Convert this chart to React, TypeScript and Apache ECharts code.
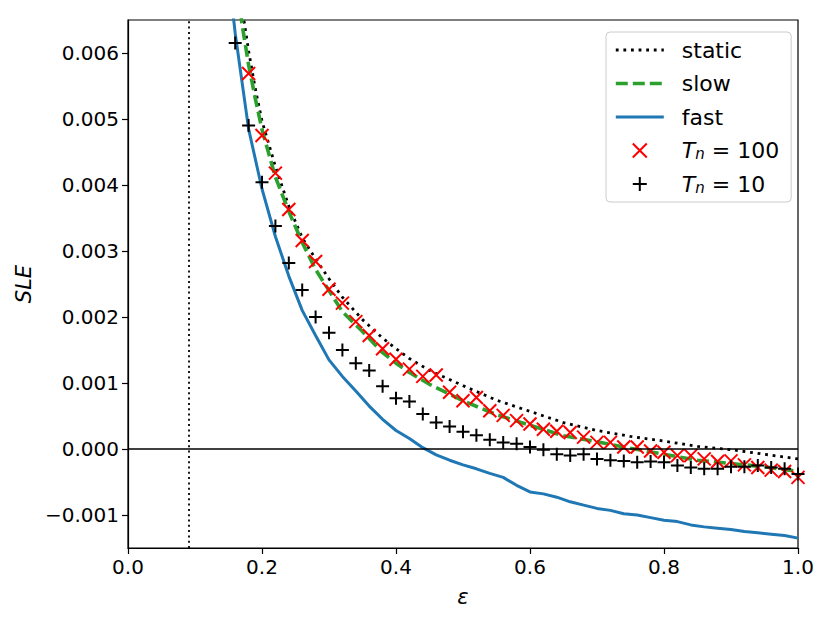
import React, { useEffect, useRef } from "react";
import * as echarts from "echarts";

// ---- data ----
const X_TICKS = [0, 0.2, 0.4, 0.6, 0.8, 1.0];
const Y_TICKS = [-0.001, 0, 0.001, 0.002, 0.003, 0.004, 0.005, 0.006];
const X_RANGE = [0, 1];
const Y_RANGE = [-0.0015, 0.0065];
const EPS_CRITICAL = [0.091];
const ZERO_LEVEL = [0];

const EPS_SMOOTH = [0.16, 0.17, 0.18, 0.19, 0.2, 0.22, 0.24, 0.26, 0.28, 0.3, 0.32, 0.35, 0.38, 0.4, 0.42, 0.45, 0.5, 0.55, 0.6, 0.65, 0.7, 0.75, 0.8, 0.85, 0.9, 0.95, 1.0];
const STATIC_SLE = [0.0074, 0.0067, 0.00603, 0.00546, 0.00497, 0.00428, 0.00368, 0.0032, 0.00288, 0.00258, 0.0023, 0.00196, 0.00168, 0.00152, 0.00137, 0.00119, 0.00096, 0.00074, 0.00057, 0.0004, 0.00028, 0.00019, 0.00012, 0.00004, -0.00001, -0.00008, -0.00015];
const SLOW_SLE = [0.0074, 0.00645, 0.00582, 0.00531, 0.00484, 0.00412, 0.0036, 0.00313, 0.00272, 0.0024, 0.00208, 0.00178, 0.00146, 0.0013, 0.00116, 0.00098, 0.00073, 0.00052, 0.00036, 0.0002, 0.00011, 0.00001, -0.00008, -0.00017, -0.00022, -0.00027, -0.00034];

const EPS_FAST = [0.15, 0.16, 0.18, 0.2, 0.22, 0.24, 0.26, 0.28, 0.3, 0.32, 0.34, 0.36, 0.38, 0.4, 0.42, 0.44, 0.46, 0.48, 0.5, 0.52, 0.54, 0.56, 0.58, 0.6, 0.62, 0.64, 0.66, 0.68, 0.7, 0.72, 0.74, 0.76, 0.78, 0.8, 0.82, 0.84, 0.86, 0.88, 0.9, 0.92, 0.94, 0.96, 0.98, 1.0];
const FAST_SLE = [0.0072, 0.0063, 0.00485, 0.00394, 0.00322, 0.00262, 0.0021, 0.00172, 0.00135, 0.0011, 0.00088, 0.00065, 0.00045, 0.00028, 0.00016, 0.00002, -0.00009, -0.00017, -0.00024, -0.0003, -0.00037, -0.00043, -0.00055, -0.00065, -0.00068, -0.00073, -0.0008, -0.00085, -0.0009, -0.00093, -0.00098, -0.001, -0.00104, -0.00108, -0.0011, -0.00115, -0.00118, -0.0012, -0.00122, -0.00125, -0.00127, -0.00129, -0.00131, -0.00135];

const EPS_T100 = [0.18, 0.2, 0.22, 0.24, 0.26, 0.28, 0.3, 0.32, 0.34, 0.36, 0.38, 0.4, 0.42, 0.44, 0.46, 0.48, 0.5, 0.52, 0.54, 0.56, 0.58, 0.6, 0.62, 0.64, 0.66, 0.68, 0.7, 0.72, 0.74, 0.76, 0.78, 0.8, 0.82, 0.84, 0.86, 0.88, 0.9, 0.92, 0.94, 0.96, 0.98, 1.0];
const T100_SLE = [0.00569, 0.00475, 0.00418, 0.00363, 0.00316, 0.00284, 0.00242, 0.00221, 0.00193, 0.00172, 0.00152, 0.00136, 0.00121, 0.0011, 0.00112, 0.00086, 0.00073, 0.00078, 0.00058, 0.00051, 0.00043, 0.00038, 0.0003, 0.00027, 0.00025, 0.00018, 0.0001, 0.0001, 0.00003, 0.00003, -0.00003, -0.00005, -0.0001, -0.0001, -0.00015, -0.00019, -0.00018, -0.00024, -0.00028, -0.00032, -0.00034, -0.00043];

const EPS_T10 = [0.16, 0.18, 0.2, 0.22, 0.24, 0.26, 0.28, 0.3, 0.32, 0.34, 0.36, 0.38, 0.4, 0.42, 0.44, 0.46, 0.48, 0.5, 0.52, 0.54, 0.56, 0.58, 0.6, 0.62, 0.64, 0.66, 0.68, 0.7, 0.72, 0.74, 0.76, 0.78, 0.8, 0.82, 0.84, 0.86, 0.88, 0.9, 0.92, 0.94, 0.96, 0.98, 1.0];
const T10_SLE = [0.00615, 0.0049, 0.00404, 0.00338, 0.00282, 0.00241, 0.002, 0.00176, 0.0015, 0.0013, 0.00119, 0.00095, 0.00077, 0.00072, 0.00053, 0.0004, 0.00034, 0.00026, 0.00021, 0.00014, 0.0001, 0.00008, 0.00003, -0.00001, -0.00008, -0.0001, -0.00008, -0.00015, -0.00017, -0.00018, -0.0002, -0.00019, -0.0002, -0.00025, -0.00028, -0.0003, -0.0003, -0.00027, -0.00027, -0.00025, -0.00028, -0.0003, -0.00038];

const LINE_NAMES = ["static", "slow", "fast"];
const MARKER_NAMES = ["T100", "T10"];

const zip = (xs: number[], ys: number[]) => xs.map((x, i) => [x, ys[i]]);

const FONT = "DejaVu Sans";
const FS = 20;
const LFS = 22;
const X_PATH = "path://M0,0L10,10M10,0L0,10";
const PLUS_PATH = "path://M5,0L5,10M0,5L10,5";

const LINE_STYLES: Record<string, any> = {
  static: { color: "#000", width: 2.8, type: [2.8, 4.8] },
  slow: { color: "#2ca02c", width: 3.6, type: [12, 5] },
  fast: { color: "#1f77b4", width: 3, type: "solid" },
};

export default function App() {
  const ref = useRef<HTMLDivElement>(null);
  useEffect(() => {
    if (!ref.current) return;
    const chart = echarts.init(ref.current, undefined, { renderer: "svg" });
    const option: any = {
      animation: false,
      backgroundColor: "#ffffff",
      textStyle: { fontFamily: FONT },
      grid: {
        left: 128,
        right: 32,
        top: 20,
        bottom: 75,
        show: true,
        borderColor: "#000",
        borderWidth: 1.2,
        backgroundColor: "transparent",
      },
      legend: {
        orient: "vertical",
        left: 606,
        top: 32,
        data: [
          ...LINE_NAMES.map((n) => ({ name: n, itemStyle: { opacity: 0 }, lineStyle: { ...LINE_STYLES[n] } })),
          ...MARKER_NAMES.map((n) => ({ name: n })),
        ],
        itemWidth: 48,
        itemHeight: 14,
        itemGap: 11.5,
        padding: [7, 12, 7, 8],
        backgroundColor: "rgba(255,255,255,0.8)",
        borderColor: "#cccccc",
        borderWidth: 1,
        borderRadius: 4,
        textStyle: {
          fontFamily: FONT,
          fontSize: LFS,
          color: "#000",
          padding: [0, 0, 0, 13],
          rich: {
            i: { fontFamily: FONT, fontStyle: "italic", fontSize: LFS, color: "#000" },
            s: { fontFamily: FONT, fontStyle: "italic", fontSize: 15, color: "#000", verticalAlign: "bottom", lineHeight: 15 },
            r: { fontFamily: FONT, fontSize: LFS, color: "#000" },
          },
        },
        formatter: (name: string) => {
          if (name === "T100") return "{i|T}{s|n}{r| = 100}";
          if (name === "T10") return "{i|T}{s|n}{r| = 10}";
          return name;
        },
      },
      xAxis: {
        type: "value",
        min: X_RANGE[0],
        max: X_RANGE[1],
        interval: 0.2,
        name: "ε",
        nameLocation: "middle",
        nameGap: 38,
        nameTextStyle: { fontFamily: FONT, fontStyle: "italic", fontSize: 21, color: "#000" },
        axisLine: { show: true, onZero: false, lineStyle: { color: "#000", width: 1.2 } },
        axisTick: { show: true, length: 6, lineStyle: { color: "#000", width: 1.2 }, customValues: X_TICKS },
        axisLabel: {
          color: "#000",
          fontFamily: FONT,
          fontSize: FS,
          margin: 9,
          customValues: X_TICKS,
          formatter: (v: number) => v.toFixed(1),
        },
        splitLine: { show: false },
      },
      yAxis: {
        type: "value",
        min: Y_RANGE[0],
        max: Y_RANGE[1],
        name: "SLE",
        nameLocation: "middle",
        nameGap: 88,
        nameRotate: 90,
        nameTextStyle: { fontFamily: FONT, fontStyle: "italic", fontSize: 21, color: "#000" },
        axisLine: { show: true, onZero: false, lineStyle: { color: "#000", width: 1.2 } },
        axisTick: { show: true, length: 6, lineStyle: { color: "#000", width: 1.2 }, customValues: Y_TICKS },
        axisLabel: {
          color: "#000",
          fontFamily: FONT,
          fontSize: FS,
          margin: 9,
          customValues: Y_TICKS,
          formatter: (v: number) => (v < -1e-12 ? "\u2212" : "") + Math.abs(v).toFixed(3),
        },
        splitLine: { show: false },
      },
      series: [
        {
          name: "static",
          type: "line",
          data: zip(EPS_SMOOTH, STATIC_SLE),
          symbol: "none",
          color: "#000",
          lineStyle: LINE_STYLES.static,
          z: 3,
          markLine: {
            silent: true,
            symbol: ["none", "none"],
            label: { show: false },
            animation: false,
            data: [
              ...EPS_CRITICAL.map((x) => ({ xAxis: x, lineStyle: { color: "#000", width: 1.8, type: [2, 3.3] } })),
              ...ZERO_LEVEL.map((y) => ({ yAxis: y, lineStyle: { color: "#000", width: 1.6, type: "solid" } })),
            ],
          },
        },
        {
          name: "slow",
          type: "line",
          data: zip(EPS_SMOOTH, SLOW_SLE),
          symbol: "none",
          color: "#2ca02c",
          lineStyle: LINE_STYLES.slow,
          z: 3,
        },
        {
          name: "fast",
          type: "line",
          data: zip(EPS_FAST, FAST_SLE),
          symbol: "none",
          color: "#1f77b4",
          lineStyle: LINE_STYLES.fast,
          z: 3,
        },
        {
          name: "T100",
          type: "scatter",
          data: zip(EPS_T100, T100_SLE),
          symbol: X_PATH,
          symbolSize: 13,
          symbolKeepAspect: true,
          color: "#ff0000",
          itemStyle: { color: "transparent", borderColor: "#ff0000", borderWidth: 2, opacity: 1 },
          z: 4,
        },
        {
          name: "T10",
          type: "scatter",
          data: zip(EPS_T10, T10_SLE),
          symbol: PLUS_PATH,
          symbolSize: 13,
          symbolKeepAspect: true,
          color: "#000",
          itemStyle: { color: "transparent", borderColor: "#000", borderWidth: 2, opacity: 1 },
          z: 4,
        },
      ],
    };
    chart.setOption(option);
    return () => chart.dispose();
  }, []);
  return (
    <div
      ref={ref}
      style={{ position: "fixed", left: 0, top: 0, width: 830, height: 623, background: "#fff" }}
    />
  );
}
